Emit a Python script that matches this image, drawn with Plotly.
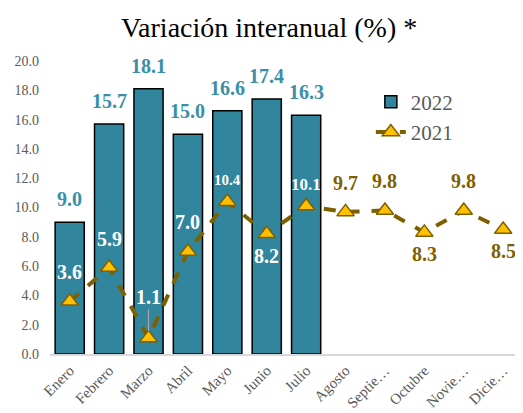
import plotly.graph_objects as go

months = ["Enero", "Febrero", "Marzo", "Abril", "Mayo", "Junio", "Julio",
          "Agosto", "Septie…", "Octubre", "Novie…", "Dicie…"]
values_2022 = [9.0, 15.7, 18.1, 15.0, 16.6, 17.4, 16.3]
values_2021 = [3.6, 5.9, 1.1, 7.0, 10.4, 8.2, 10.1, 9.7, 9.8, 8.3, 9.8, 8.5]
y_ticks = [0, 2, 4, 6, 8, 10, 12, 14, 16, 18, 20]

OLIVE = "#7f6000"
TEAL = "#31859c"
SERIF = "Liberation Serif"

# label placement for the 2021 series: above or below the marker
above_2021 = [True, True, True, True, True, False, True, True, True, False, True, False]
col_2021 = ["white"] * 7 + [OLIVE] * 5
size_2021 = [20, 20, 20, 20, 15, 20, 17, 20, 20, 20, 20, 20]
leader_2021 = [False, False, True, False, False, False, False, False, False, False, False, False]

fig = go.Figure()
fig.add_trace(go.Bar(
    x=months[:len(values_2022)], y=values_2022, name="2022",
    marker=dict(color=TEAL, line=dict(color="black", width=1.5)),
))
fig.add_trace(go.Scatter(
    x=months, y=values_2021, name="2021", mode="lines+markers",
    line=dict(color=OLIVE, width=4, dash="dash"),
    marker=dict(symbol="triangle-up", size=15, color="#ffc000",
                line=dict(color=OLIVE, width=1.5)),
    cliponaxis=False,
))

annotations = []
for m, v in zip(months, values_2022):
    annotations.append(dict(x=m, y=v, xref="x", yref="y", text=f"{v:.1f}",
                            showarrow=False, yshift=23,
                            font=dict(family=SERIF, size=20, color="#3a8fa8",
                                      weight="bold")))
for m, v, up, c, s, ld in zip(months, values_2021, above_2021, col_2021,
                              size_2021, leader_2021):
    font = dict(family=SERIF, size=s, color=c, weight="bold")
    if ld:
        annotations.append(dict(x=m, y=v, xref="x", yref="y", text=f"{v:.1f}",
                                showarrow=True, ax=0, ay=-41, arrowhead=0,
                                arrowwidth=1.2, arrowcolor="#a6a6a6",
                                standoff=7, font=font))
    else:
        annotations.append(dict(x=m, y=v, xref="x", yref="y", text=f"{v:.1f}",
                                showarrow=False,
                                yshift=(29 if s >= 19 else 22) if up else -22,
                                font=font))

fig.update_layout(
    width=507, height=405,
    margin=dict(l=42, r=0, t=53, b=59, autoexpand=False),
    paper_bgcolor="white", plot_bgcolor="white",
    bargap=0.26,
    showlegend=True,
    annotations=annotations,
    title=dict(text="Variación interanual (%) *", x=0.515, xanchor="center",
               xref="container", y=0.953, yanchor="middle",
               font=dict(family=SERIF, size=28, color="black")),
    legend=dict(x=0.69, y=0.93, xanchor="left", yanchor="top",
                font=dict(family=SERIF, size=21, color="#595959"),
                bgcolor="rgba(0,0,0,0)", tracegroupgap=0),
    xaxis=dict(categoryorder="array", categoryarray=months, automargin=False,
               range=[-0.5, 11.3],
               tickangle=-45, showline=True, linecolor="#d9d9d9", linewidth=2,
               tickfont=dict(family=SERIF, size=15, color="#595959"),
               showgrid=False, ticks=""),
    yaxis=dict(range=[0, 20], tickvals=y_ticks, tickformat=".1f", automargin=False,
               ticklabelstandoff=10,
               showgrid=False, zeroline=False, showline=False,
               tickfont=dict(family=SERIF, size=14, color="#595959")),
)

fig.write_html("out.html")
